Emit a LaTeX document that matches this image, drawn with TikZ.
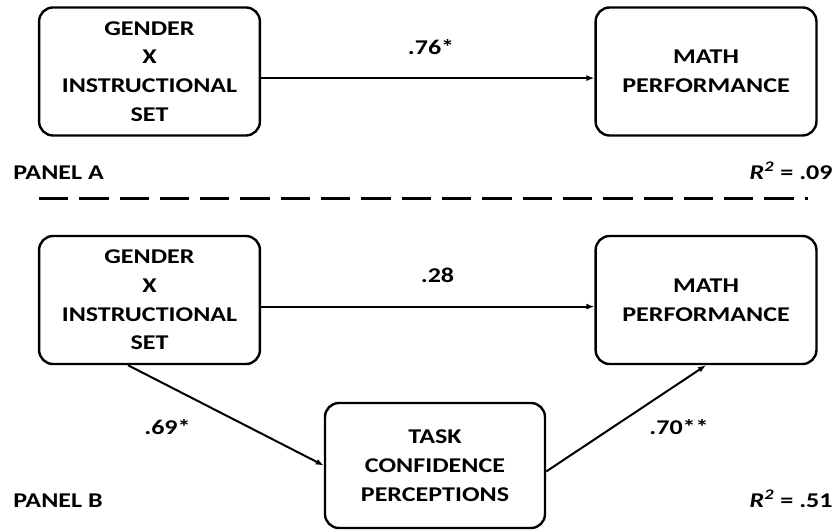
\documentclass[tikz,border=0pt]{standalone}
\usepackage{fontspec}
\setmainfont{Carlito}[FakeStretch=1.24]
\usepackage{tikz}
\usetikzlibrary{positioning}
\usetikzlibrary{arrows.meta}

\begin{document}

\begin{tikzpicture}[
	varbox/.style={draw, line width=1.2pt, rounded corners=7pt, align=center,
		minimum width=3.88cm, minimum height=2.25cm, inner sep=0pt,
		font=\fontsize{10.5}{14.35}\selectfont\bfseries},
	pathlbl/.style={inner sep=0pt, font=\fontsize{10.5}{12}\selectfont\bfseries},
	effect/.style={line width=1pt, -{Latex[length=4pt,width=3pt]}},
	]
	
	% ------------------------------------------------
	% Ensure the dimensions of graphic are appropriate
	\useasboundingbox (0,0) rectangle (14.673,-9.296);
	
	% ------------------------------------------------
	% Relevant coordinates
	\coordinate (Beg) at (0,0);
	
	\path (Beg) +(2.627,-1.256) coordinate (AL);
	\path (AL)  +(9.780,0.000)  coordinate (AR);
	\path (AL)  +(0.000,-4.016) coordinate (BL);
	\path (BL)  +(9.780,0.000)  coordinate (BR);
	\path (BL)  +(5.017,-2.908) coordinate (BM);
	
	% ----------------
	% Panel A
	\node[varbox] (GenA)  at (AL) {GENDER\\X\\INSTRUCTIONAL\\SET};
	\node[varbox] (MathA) at (AR) {MATH\\PERFORMANCE};
	
	\draw[effect] ([yshift=-3.3pt]GenA.east) -- ([yshift=-3.3pt]MathA.west);
	
	\node[pathlbl, anchor=base] (LblA) at (7.574,-0.949) {.76*};
	
	\node[pathlbl, anchor=base west] (PanA) at (0.228,-3.151) {PANEL A};
	\node[pathlbl, anchor=base east] (RsqA) at (14.638,-3.151)
		{\textit{R}\textsuperscript{\textit{2}} = .09};
	
	% ----------------
	% Separator
	\coordinate (SepL) at (0.685,-3.488);
	\coordinate (SepR) at (14.199,-3.488);
	\draw[line width=1.65pt, dash pattern=on 14.65pt off 5.5pt] (SepL) -- (SepR);
	
	% ----------------
	% Panel B
	\node[varbox] (GenB)  at (BL) {GENDER\\X\\INSTRUCTIONAL\\SET};
	\node[varbox] (MathB) at (BR) {MATH\\PERFORMANCE};
	\node[varbox, minimum width=3.866cm, minimum height=2.197cm] (Task) at (BM)
		{TASK\\CONFIDENCE\\PERCEPTIONS};
	
	\draw[effect] ([yshift=-3.3pt]GenB.east) -- ([yshift=-3.3pt]MathB.west);
	\draw[effect] ([xshift=-10.75pt]GenB.south) -- (Task.west);
	\draw[effect] ([yshift=-3pt]Task.east) -- (MathB.south);
	
	\node[pathlbl, anchor=base] (LblB)  at (7.688,-4.961) {.28};
	\node[pathlbl, anchor=base] (LblBL) at (2.943,-7.632) {.69*};
	\node[pathlbl, anchor=base] (LblBR) at (11.932,-7.627) {.70**};
	
	\node[pathlbl, anchor=base west] (PanB) at (0.228,-8.910) {PANEL B};
	\node[pathlbl, anchor=base east] (RsqB) at (14.638,-8.910)
		{\textit{R}\textsuperscript{\textit{2}} = .51};
	
\end{tikzpicture}

\end{document}
